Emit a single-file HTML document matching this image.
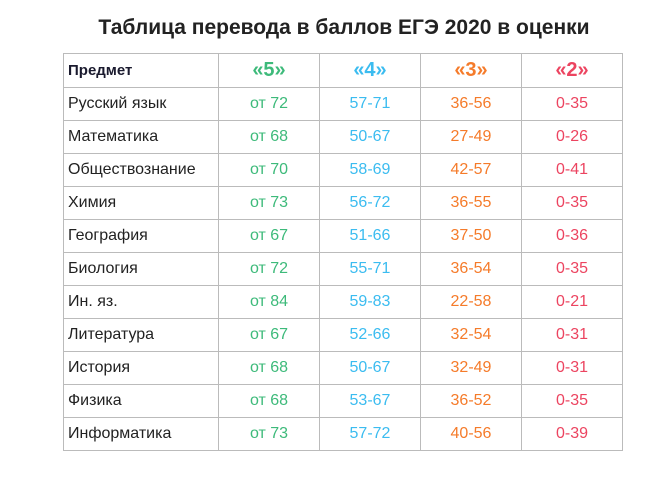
<!DOCTYPE html>
<html><head><meta charset="utf-8">
<style>
body{margin:0;width:658px;height:480px;background:#fff;font-family:"Liberation Sans",sans-serif;position:relative;overflow:hidden}
h1{position:absolute;top:16px;left:0;width:688px;margin:0;text-align:center;font-size:21px;font-weight:bold;color:#222}
table{position:absolute;left:63px;top:53px;border-collapse:collapse}
td{border:1px solid #bbb;height:32px;padding:0;text-align:center;font-size:16px}
td.s{text-align:left;padding-left:4px;color:#222;width:150px}
tr.h td{height:33px;font-weight:bold;font-size:20px}
tr.h td.s{font-size:15px;color:#1a1a2e}
.c5{color:#3dba7a;width:100px}.c4{color:#3bbcf0;width:100px}.c3{color:#f57b2a;width:100px}.c2{color:#ec4460;width:100px}
</style></head><body>
<h1>Таблица перевода в баллов ЕГЭ 2020 в оценки</h1>
<table><tbody id="tb">
<tr class="h"><td class="s">Предмет</td><td class="c5">«5»</td><td class="c4">«4»</td><td class="c3">«3»</td><td class="c2">«2»</td></tr>
</tbody></table>
<script>
const subjects=["Русский язык","Математика","Обществознание","Химия","География","Биология","Ин. яз.","Литература","История","Физика","Информатика"];
const g5=["от 72","от 68","от 70","от 73","от 67","от 72","от 84","от 67","от 68","от 68","от 73"];
const g4=["57-71","50-67","58-69","56-72","51-66","55-71","59-83","52-66","50-67","53-67","57-72"];
const g3=["36-56","27-49","42-57","36-55","37-50","36-54","22-58","32-54","32-49","36-52","40-56"];
const g2=["0-35","0-26","0-41","0-35","0-36","0-35","0-21","0-31","0-31","0-35","0-39"];
const tb=document.getElementById('tb');
subjects.forEach((s,i)=>{
 const tr=document.createElement('tr');
 
 
 [[s,'s'],[g5[i],'c5'],[g4[i],'c4'],[g3[i],'c3'],[g2[i],'c2']].forEach(([t,c])=>{
  const td=document.createElement('td');td.className=c;td.textContent=t;
  
  
  tr.appendChild(td);
 });
 tb.appendChild(tr);
});
</script>
</body></html>
